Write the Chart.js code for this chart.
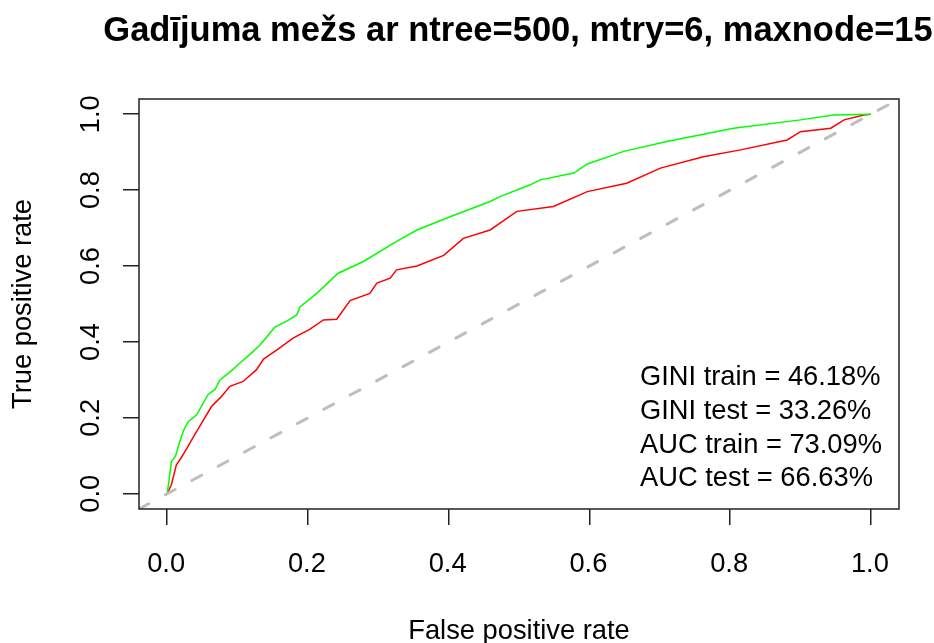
<!DOCTYPE html>
<html>
<head>
<meta charset="utf-8">
<script src="https://cdn.jsdelivr.net/npm/chart.js@4/dist/chart.umd.min.js"></script>
<style>
  html, body { margin: 0; padding: 0; background: #fff; }
  canvas { display: block; }
</style>
</head>
<body>
<canvas id="roc" width="934" height="643"></canvas>
<script>
// ROC curve points
const fprTrain = [0, 0.003, 0.006, 0.012, 0.018, 0.024, 0.030, 0.042, 0.050, 0.058, 0.068, 0.075, 0.090, 0.103, 0.118, 0.132, 0.153, 0.170, 0.184, 0.189, 0.2125, 0.243, 0.279, 0.326, 0.355, 0.402, 0.459, 0.473, 0.516, 0.530, 0.578, 0.597, 0.649, 0.710, 0.805, 0.900, 0.947, 1.0];
const tprTrain = [0, 0.040, 0.085, 0.100, 0.138, 0.170, 0.190, 0.208, 0.235, 0.261, 0.275, 0.300, 0.322, 0.344, 0.368, 0.392, 0.439, 0.455, 0.471, 0.493, 0.528, 0.581, 0.612, 0.665, 0.695, 0.730, 0.770, 0.783, 0.814, 0.827, 0.845, 0.869, 0.902, 0.928, 0.963, 0.985, 0.998, 1.0];

const fprTest = [0, 0.006, 0.013, 0.020, 0.028, 0.039, 0.049, 0.063, 0.077, 0.089, 0.108, 0.127, 0.137, 0.156, 0.179, 0.203, 0.222, 0.241, 0.260, 0.288, 0.298, 0.317, 0.326, 0.355, 0.393, 0.421, 0.459, 0.473, 0.497, 0.549, 0.597, 0.653, 0.701, 0.762, 0.815, 0.881, 0.900, 0.943, 0.962, 0.990, 1.0];
const tprTest = [0, 0.024, 0.076, 0.095, 0.120, 0.155, 0.186, 0.230, 0.256, 0.283, 0.296, 0.327, 0.355, 0.379, 0.410, 0.434, 0.458, 0.460, 0.509, 0.528, 0.555, 0.568, 0.590, 0.600, 0.628, 0.673, 0.695, 0.713, 0.744, 0.757, 0.796, 0.818, 0.858, 0.888, 0.906, 0.932, 0.954, 0.963, 0.985, 0.998, 1.0];

const diagonal = [-0.04, 1.04];

const xTicks = [0, 0.2, 0.4, 0.6, 0.8, 1.0];
const yTicks = [0, 0.2, 0.4, 0.6, 0.8, 1.0];

const titleText = 'Gadījuma mežs ar ntree=500, mtry=6, maxnode=15';
const xTitle = 'False positive rate';
const yTitle = 'True positive rate';
const statNames = ['GINI train', 'GINI test', 'AUC train', 'AUC test'];
const statValues = ['46.18%', '33.26%', '73.09%', '66.63%'];

const FONT = '"Liberation Sans", Arial, sans-serif';

function pts(xs, ys) {
  return xs.map((x, i) => ({ x: x, y: ys[i] }));
}

const textPlugin = {
  id: 'rtext',
  afterDraw(chart) {
    const ctx = chart.ctx;
    const a = chart.chartArea;
    const xs = chart.scales.x;
    const ys = chart.scales.y;
    ctx.save();

    // box round the plot
    ctx.strokeStyle = '#222';
    ctx.lineWidth = 1.5;
    ctx.strokeRect(a.left, a.top, a.right - a.left, a.bottom - a.top);

    ctx.fillStyle = '#000';
    const cx = (a.left + a.right) / 2;
    const cy = (a.top + a.bottom) / 2;

    ctx.font = 'bold 34.5px ' + FONT;
    ctx.textAlign = 'center';
    ctx.textBaseline = 'alphabetic';
    ctx.fillText(titleText, cx - 1, 41);

    ctx.font = '27.3px ' + FONT;
    xTicks.forEach(v => {
      ctx.fillText(v.toFixed(1), xs.getPixelForValue(v) - 1, 572);
    });
    ctx.fillText(xTitle, cx, 639);

    yTicks.forEach(v => {
      ctx.save();
      ctx.translate(99, ys.getPixelForValue(v));
      ctx.rotate(-Math.PI / 2);
      ctx.fillText(v.toFixed(1), 0, 0);
      ctx.restore();
    });

    ctx.save();
    ctx.translate(31, cy);
    ctx.rotate(-Math.PI / 2);
    ctx.fillText(yTitle, 0, 0);
    ctx.restore();

    ctx.textAlign = 'left';
    statNames.forEach((n, i) => {
      ctx.fillText(n + ' = ' + statValues[i], 640, 385 + i * 33.8);
    });
    ctx.restore();
  }
};

const axisGrid = {
  drawOnChartArea: false,
  drawTicks: true,
  tickLength: 16,
  color: '#222',
  lineWidth: 1.5
};

new Chart(document.getElementById('roc'), {
  type: 'scatter',
  data: {
    datasets: [
      {
        label: 'diagonal',
        data: pts(diagonal, diagonal),
        showLine: true,
        borderColor: '#BEBEBE',
        borderWidth: 3,
        borderDash: [11, 19],
        borderCapStyle: 'round',
        pointRadius: 0,
        order: 0
      },
      {
        label: 'train',
        data: pts(fprTrain, tprTrain),
        showLine: true,
        borderColor: '#00FF00',
        borderWidth: 1.5,
        pointRadius: 0,
        order: 1
      },
      {
        label: 'test',
        data: pts(fprTest, tprTest),
        showLine: true,
        borderColor: '#FF0000',
        borderWidth: 1.5,
        pointRadius: 0,
        order: 2
      }
    ]
  },
  options: {
    responsive: false,
    animation: false,
    devicePixelRatio: 1,
    layout: { padding: { left: 139, right: 35, top: 99, bottom: 134 } },
    plugins: {
      legend: { display: false },
      tooltip: { enabled: false },
      title: { display: false }
    },
    scales: {
      x: {
        type: 'linear',
        min: -0.04,
        max: 1.04,
        afterBuildTicks: s => { s.ticks = xTicks.map(v => ({ value: v })); },
        afterFit: s => { s.height = 0; },
        ticks: { display: false },
        grid: axisGrid,
        border: { display: false }
      },
      y: {
        type: 'linear',
        min: -0.04,
        max: 1.04,
        afterBuildTicks: s => { s.ticks = yTicks.map(v => ({ value: v })); },
        afterFit: s => { s.width = 0; },
        ticks: { display: false },
        grid: axisGrid,
        border: { display: false }
      }
    }
  },
  plugins: [textPlugin]
});
</script>
</body>
</html>
